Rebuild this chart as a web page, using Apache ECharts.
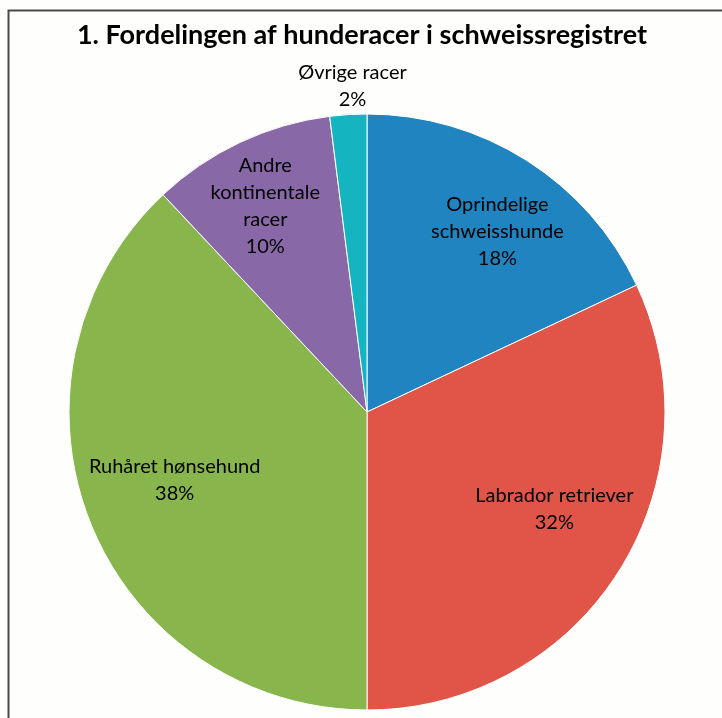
<!DOCTYPE html>
<html>
<head>
<meta charset="utf-8">
<script src="https://cdn.jsdelivr.net/npm/echarts@6/dist/echarts.min.js"></script>
<style>
html, body { margin: 0; padding: 0; background: #fefefc; }
#chart { width: 722px; height: 718px; }
</style>
</head>
<body>
<div id="chart"></div>
<script>
// slices, clockwise from 12 o'clock
var categories = ["Oprindelige\nschweisshunde", "Labrador retriever", "Ruhåret hønsehund", "Andre\nkontinentale\nracer", "Øvrige racer"];
var shares = [18, 32, 38, 10, 2];
var sliceColors = ["#1f84bf", "#e15549", "#88b64d", "#8868a7", "#15b4c1"];
// nudges from the default "inside" label spot
var labelOffsets = [[49, -52], [59, 16], [-51, 12], [-37, -68], [-5, -174]];

var chart = echarts.init(document.getElementById("chart"));

var pieData = [];
for (var i = 0; i < categories.length; i++) {
    pieData.push({ name: categories[i], value: shares[i], itemStyle: { color: sliceColors[i] } });
}

chart.setOption({
    backgroundColor: "#fefefc",
    animation: false,
    title: {
        text: "1. Fordelingen af hunderacer i schweissregistret",
        left: 357,
        top: 17,
        textAlign: "center",
        textStyle: { fontFamily: "Lato", fontWeight: "bold", fontSize: 27, color: "#000" }
    },
    graphic: [{
        type: "polyline",
        shape: { points: [[8.5, 730], [8.5, 10.5], [730, 10.5]] },
        style: { stroke: "#4a4a4a", lineWidth: 2, fill: null },
        silent: true
    }],
    series: [{
        type: "pie",
        center: [367, 412],
        radius: 298,
        startAngle: 90,
        clockwise: true,
        avoidLabelOverlap: false,
        itemStyle: { borderColor: "#fff", borderWidth: 1 },
        label: {
            position: "inside",
            formatter: function (p) { return p.name + "\n" + p.value + "%"; },
            fontFamily: "Lato",
            fontSize: 20,
            lineHeight: 27,
            color: "#000",
            align: "center"
        },
        labelLine: { show: false },
        labelLayout: function (params) {
            var o = labelOffsets[params.dataIndex];
            return { dx: o[0], dy: o[1] };
        },
        emphasis: { disabled: true },
        data: pieData
    }]
});
</script>
</body>
</html>
